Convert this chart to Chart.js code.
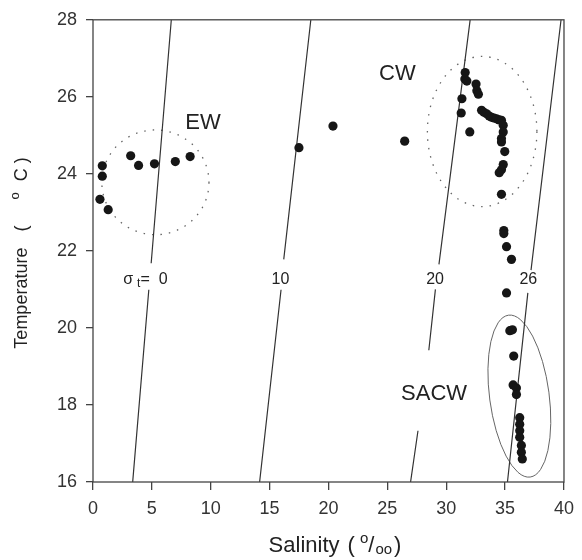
<!DOCTYPE html>
<html>
<head>
<meta charset="utf-8">
<script src="https://cdn.jsdelivr.net/npm/chart.js@4/dist/chart.umd.min.js"></script>
<style>
  html, body { margin: 0; padding: 0; background: #fff; }
  canvas { display: block; }
</style>
</head>
<body>
<canvas id="ts" width="582" height="560"></canvas>
<script>
// T–S samples: salinity (‰) and temperature (°C)
const salinity = [
  0.79, 0.79, 0.59, 1.29, 3.2, 3.87, 5.22, 6.99, 8.25,
  17.49, 20.38, 26.47,
  31.61, 31.58, 31.75, 31.33, 31.27, 32.0, 32.53, 32.6, 32.73,
  33.0, 33.2, 33.43, 33.65, 33.85, 34.05, 34.27, 34.5, 34.69,
  34.84, 34.84, 34.69, 34.69, 34.97, 34.84, 34.69, 34.5, 34.69,
  34.89, 34.89, 35.12, 35.54,
  35.12, 35.4, 35.62, 35.73, 35.68, 35.96, 35.96,
  36.24, 36.24, 36.24, 36.24, 36.38, 36.38, 36.46
];
const temperature = [
  24.21, 23.94, 23.34, 23.07, 24.47, 24.22, 24.26, 24.32, 24.45,
  24.68, 25.24, 24.85,
  26.63, 26.46, 26.41, 25.95, 25.58, 25.09, 26.33, 26.16, 26.07,
  25.65, 25.6, 25.56, 25.5, 25.47, 25.45, 25.43, 25.4, 25.39,
  25.26, 25.09, 24.92, 24.83, 24.58, 24.24, 24.11, 24.03, 23.47,
  22.53, 22.45, 22.11, 21.78,
  20.91, 19.93, 19.95, 19.27, 18.52, 18.44, 18.27,
  17.67, 17.5, 17.33, 17.16, 16.95, 16.77, 16.6
];

// Isopycnals (σt): vertices, null marks a break around a label
const sigma0S  = [3.37, 4.74, null, 4.94, 6.65];
const sigma0T  = [16, 20.99, null, 21.68, 28];
const sigma10S = [14.15, 15.97, null, 16.2, 18.5];
const sigma10T = [16, 20.99, null, 21.78, 28];
const sigma20S = [26.97, 27.6, null, 28.52, 29.08, null, 29.38, 32.03];
const sigma20T = [16, 17.33, null, 19.42, 21.0, null, 21.65, 28];
const sigma26S = [35.2, 36.93, null, 37.2, 39.75];
const sigma26T = [16, 20.91, null, 21.5, 28];

const sigmaLabels = ['0', '10', '20', '26'];
const sigmaLabelS = [4.45, 15.92, 29.05, 36.97];
const sigmaLabelT = 21.3;

// Water masses
const massNames   = ['EW', 'CW', 'SACW'];
const massLabelS  = [9.35, 25.85, 28.97];
const massLabelT  = [25.31, 26.6, 18.28];
const massCenterS = [5.3, 33.05, 36.21];
const massCenterT = [23.78, 25.1, 18.23];
const massRadiusS = [4.55, 4.65, 2.53];
const massRadiusT = [1.36, 1.95, 2.12];
const massTilt    = [0, 0, -7.6];
const massDotted  = [true, true, false];

// Axis ticks
const salinityTicks = [0, 5, 10, 15, 20, 25, 30, 35, 40];
const temperatureTicks = [16, 18, 20, 22, 24, 26, 28];

const FONT = "'Liberation Sans', Arial, Helvetica, sans-serif";
const INK = '#222';

const toPoints = (xs, ys) => xs.map((x, i) => ({ x: x, y: ys[i] }));

const isoStyle = {
  type: 'line',
  showLine: true,
  borderColor: '#333',
  borderWidth: 1.2,
  pointRadius: 0,
  pointHoverRadius: 0,
  fill: false,
  spanGaps: false,
  tension: 0
};

// Draws a run of text pieces (with super/subscripts) centred on cx
function drawRich(ctx, pieces, cx, baseline) {
  let total = 0;
  pieces.forEach(p => {
    ctx.font = p.size + 'px ' + FONT;
    p.w = ctx.measureText(p.t).width;
    total += p.w + (p.gap || 0);
  });
  let x = cx - total / 2;
  ctx.textAlign = 'left';
  ctx.textBaseline = 'alphabetic';
  pieces.forEach(p => {
    ctx.font = p.size + 'px ' + FONT;
    ctx.fillText(p.t, x, baseline + (p.dy || 0));
    x += p.w + (p.gap || 0);
  });
}

const waterMasses = {
  id: 'waterMasses',
  beforeDatasetsDraw(chart) {
    const { ctx, chartArea, scales: { x, y } } = chart;
    const pxS = Math.abs(x.getPixelForValue(1) - x.getPixelForValue(0));
    const pxT = Math.abs(y.getPixelForValue(1) - y.getPixelForValue(0));
    ctx.save();
    ctx.beginPath();
    ctx.rect(chartArea.left, chartArea.top, chartArea.width, chartArea.height);
    ctx.clip();
    massNames.forEach((n, i) => {
      ctx.beginPath();
      ctx.ellipse(
        x.getPixelForValue(massCenterS[i]),
        y.getPixelForValue(massCenterT[i]),
        massRadiusS[i] * pxS,
        massRadiusT[i] * pxT,
        massTilt[i] * Math.PI / 180,
        0, Math.PI * 2
      );
      if (massDotted[i]) {
        ctx.setLineDash([1.5, 7]);
        ctx.strokeStyle = '#666';
        ctx.lineWidth = 1.3;
      } else {
        ctx.setLineDash([]);
        ctx.strokeStyle = '#666';
        ctx.lineWidth = 1;
      }
      ctx.stroke();
    });
    ctx.restore();
  },
  afterDatasetsDraw(chart) {
    const { ctx, scales: { x, y } } = chart;
    ctx.save();
    ctx.fillStyle = INK;
    ctx.textAlign = 'center';
    ctx.textBaseline = 'middle';
    ctx.font = '22px ' + FONT;
    massNames.forEach((n, i) => {
      ctx.fillText(n, x.getPixelForValue(massLabelS[i]), y.getPixelForValue(massLabelT[i]));
    });
    const ly = y.getPixelForValue(sigmaLabelT);
    sigmaLabels.forEach((s, i) => {
      const lx = x.getPixelForValue(sigmaLabelS[i]);
      if (i === 0) {
        drawRich(ctx, [
          { t: 'σ', size: 16, gap: 4 },
          { t: 't', size: 12, dy: 3 },
          { t: '=  ' + s, size: 16 }
        ], lx, ly + 6);
      } else {
        drawRich(ctx, [{ t: s, size: 16 }], lx, ly + 6);
      }
    });
    ctx.restore();
  },
  afterDraw(chart) {
    const { ctx, chartArea: a } = chart;
    ctx.save();
    // plot frame
    ctx.strokeStyle = '#444';
    ctx.lineWidth = 1.3;
    ctx.strokeRect(a.left, a.top, a.width, a.height);
    // axis titles
    ctx.fillStyle = INK;
    drawRich(ctx, [
      { t: 'Salinity ', size: 22, gap: 2 },
      { t: '(', size: 22, gap: 5 },
      { t: 'o', size: 15, dy: -9 },
      { t: '/', size: 22, gap: 1 },
      { t: 'oo', size: 15, dy: 2, gap: 2 },
      { t: ')', size: 22 }
    ], 335, 552);
    ctx.translate(27, 253);
    ctx.rotate(-Math.PI / 2);
    drawRich(ctx, [
      { t: 'Temperature', size: 18, gap: 16 },
      { t: '(', size: 18, gap: 26 },
      { t: 'o', size: 13, dy: -8, gap: 11 },
      { t: 'C', size: 18, gap: 5 },
      { t: ')', size: 18 }
    ], 0, 0);
    ctx.restore();
  }
};

new Chart(document.getElementById('ts'), {
  type: 'scatter',
  data: {
    datasets: [
      {
        label: 'Samples',
        data: toPoints(salinity, temperature),
        pointRadius: 4.6,
        pointHoverRadius: 4.6,
        pointBackgroundColor: '#161616',
        pointBorderColor: '#161616',
        pointBorderWidth: 0
      },
      Object.assign({ label: 'σt 0',  data: toPoints(sigma0S, sigma0T) }, isoStyle),
      Object.assign({ label: 'σt 10', data: toPoints(sigma10S, sigma10T) }, isoStyle),
      Object.assign({ label: 'σt 20', data: toPoints(sigma20S, sigma20T) }, isoStyle),
      Object.assign({ label: 'σt 26', data: toPoints(sigma26S, sigma26T) }, isoStyle)
    ]
  },
  options: {
    responsive: false,
    animation: false,
    events: [],
    layout: { padding: { left: 0, top: 13, right: 14, bottom: 0 } },
    plugins: {
      legend: { display: false },
      tooltip: { enabled: false }
    },
    scales: {
      x: {
        type: 'linear',
        min: 0,
        max: 40,
        afterBuildTicks(scale) { scale.ticks = salinityTicks.map(v => ({ value: v })); },
        afterFit(scale) { scale.height = 78; },
        border: { display: false },
        grid: { drawOnChartArea: false, drawTicks: true, tickLength: 8, color: '#444', lineWidth: 1.3 },
        ticks: { color: '#333', padding: 8, maxRotation: 0, font: { family: FONT, size: 18 } }
      },
      y: {
        type: 'linear',
        min: 16,
        max: 28,
        afterBuildTicks(scale) { scale.ticks = temperatureTicks.map(v => ({ value: v })); },
        afterFit(scale) { scale.width = 93; },
        border: { display: false },
        grid: { drawOnChartArea: false, drawTicks: true, tickLength: 7, color: '#444', lineWidth: 1.3 },
        ticks: { color: '#333', padding: 9, font: { family: FONT, size: 18 } }
      }
    }
  },
  plugins: [waterMasses]
});
</script>
</body>
</html>
